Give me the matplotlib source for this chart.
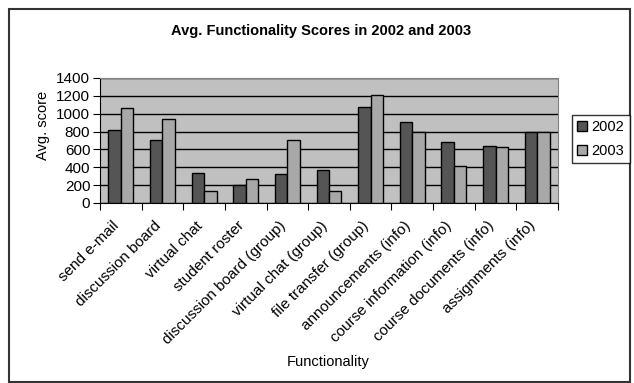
import numpy as np
import matplotlib
matplotlib.use("Agg")
import matplotlib.pyplot as plt
import matplotlib.transforms as mtransforms
from matplotlib.patches import Rectangle

# data
functions = ["send e-mail", "discussion board", "virtual chat", "student roster",
             "discussion board (group)", "virtual chat (group)", "file transfer (group)",
             "announcements (info)", "course information (info)",
             "course documents (info)", "assignments (info)"]
scores_2002 = [820, 700, 340, 205, 325, 370, 1070, 905, 685, 640, 795]
scores_2003 = [1060, 940, 130, 265, 700, 130, 1205, 795, 415, 625, 795]
y_ticks = [0, 200, 400, 600, 800, 1000, 1200, 1400]

plt.rcParams["font.family"] = ["Liberation Sans", "DejaVu Sans"]
plt.rcParams["font.size"] = 10

W, H = 634, 383
fig = plt.figure(figsize=(W / 100, H / 100), dpi=100)
ax = fig.add_axes([100 / W, 1 - 203 / H, 458 / W, 125 / H])

x = np.arange(len(functions))
bw = 0.3
ax.bar(x - bw / 2, scores_2002, bw, color="#555555", edgecolor="black", linewidth=1, label="2002", zorder=3)
ax.bar(x + bw / 2, scores_2003, bw, color="#a8a8a8", edgecolor="black", linewidth=1, label="2003", zorder=3)

ax.set_facecolor("#c0c0c0")
ax.set_xlim(-0.5, len(functions) - 0.5)
ax.set_ylim(0, 1400)
ax.set_yticks(y_ticks)
ax.set_yticklabels([str(v) for v in y_ticks], fontsize=11)
ax.yaxis.grid(True, color="black", linewidth=1, zorder=0)
ax.set_axisbelow(True)

# category ticks sit on boundaries, labels at centres
ax.set_xticks(np.arange(len(functions) + 1) - 0.5)
ax.set_xticklabels([])
ax.set_xticks(x, minor=True)
ax.set_xticklabels(functions, minor=True, rotation=45, ha="right",
                   rotation_mode="anchor", fontsize=11)
ax.tick_params(axis="x", which="minor", length=0, pad=9)
ax.tick_params(axis="x", which="major", length=5, direction="out", color="black")
ax.tick_params(axis="y", length=5, direction="out", pad=2)

# nudge the slanted labels a little left/down like the original
shift = mtransforms.ScaledTranslation(-9 / 100, -3 / 100, fig.dpi_scale_trans)
for lab in ax.get_xticklabels(minor=True):
    lab.set_transform(lab.get_transform() + shift)

for s in ["top", "right"]:
    ax.spines[s].set_color("#808080")
ax.spines["left"].set_color("black")
ax.spines["bottom"].set_color("black")

fig.text(321 / W, 1 - 31 / H, "Avg. Functionality Scores in 2002 and 2003",
         ha="center", va="center", fontsize=10.5, fontweight="bold")
fig.text(43 / W, 1 - 125 / H, "Avg. score", rotation=90, ha="center", va="center", fontsize=10.5)
fig.text(328 / W, 1 - 362 / H, "Functionality", ha="center", va="center", fontsize=10.5)

leg = fig.legend(loc="upper left", bbox_to_anchor=(572 / W, 1 - 115 / H),
                 frameon=True, fancybox=False, edgecolor="black", fontsize=10.5,
                 handlelength=0.7, handleheight=0.7, handletextpad=0.3,
                 borderpad=0.35, labelspacing=0.7, borderaxespad=0)
leg.get_frame().set_linewidth(1)

fig.patches.append(Rectangle((9 / W, 1 - 382 / H), 621 / W, 373 / H,
                             transform=fig.transFigure, fill=False,
                             edgecolor="#333333", linewidth=1.5))

fig.savefig("out.png", dpi=100, facecolor="white")
